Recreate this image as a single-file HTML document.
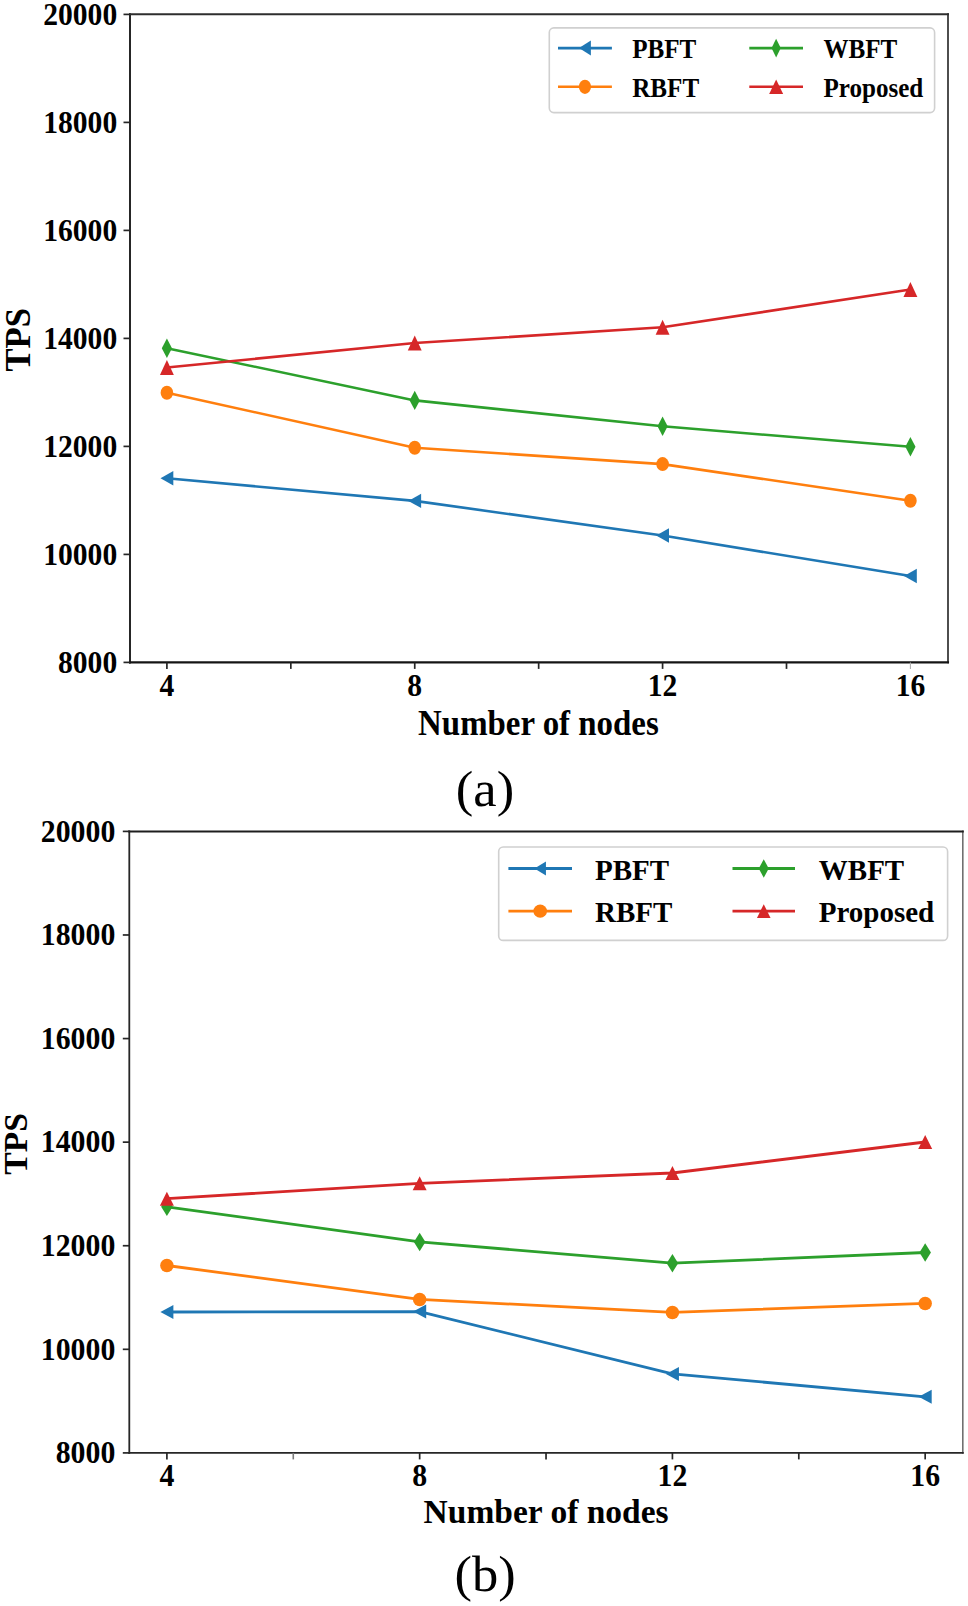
<!DOCTYPE html>
<html><head><meta charset="utf-8"><style>
html,body{margin:0;padding:0;background:#fff;}
svg{display:block;}
text{font-family:"Liberation Serif", serif;}
</style></head><body>
<svg width="968" height="1606" viewBox="0 0 968 1606">
<rect width="968" height="1606" fill="#fff"/>
<polyline points="166.90,478.30 414.74,500.90 662.58,535.50 910.42,576.00" fill="none" stroke="#1f77b4" stroke-width="2.6" stroke-linejoin="round"/>
<polygon points="160.50,478.30 173.30,471.10 173.30,485.50" fill="#1f77b4"/>
<polygon points="408.34,500.90 421.14,493.70 421.14,508.10" fill="#1f77b4"/>
<polygon points="656.18,535.50 668.98,528.30 668.98,542.70" fill="#1f77b4"/>
<polygon points="904.02,576.00 916.82,568.80 916.82,583.20" fill="#1f77b4"/>
<polyline points="166.90,392.70 414.74,447.70 662.58,464.10 910.42,500.70" fill="none" stroke="#ff7f0e" stroke-width="2.6" stroke-linejoin="round"/>
<ellipse cx="166.90" cy="392.70" rx="6.30" ry="7.00" fill="#ff7f0e"/>
<ellipse cx="414.74" cy="447.70" rx="6.30" ry="7.00" fill="#ff7f0e"/>
<ellipse cx="662.58" cy="464.10" rx="6.30" ry="7.00" fill="#ff7f0e"/>
<ellipse cx="910.42" cy="500.70" rx="6.30" ry="7.00" fill="#ff7f0e"/>
<polyline points="166.90,348.20 414.74,400.40 662.58,426.30 910.42,446.80" fill="none" stroke="#2ca02c" stroke-width="2.6" stroke-linejoin="round"/>
<polygon points="166.90,338.50 172.00,348.20 166.90,357.90 161.80,348.20" fill="#2ca02c"/>
<polygon points="414.74,390.70 419.84,400.40 414.74,410.10 409.64,400.40" fill="#2ca02c"/>
<polygon points="662.58,416.60 667.68,426.30 662.58,436.00 657.48,426.30" fill="#2ca02c"/>
<polygon points="910.42,437.10 915.52,446.80 910.42,456.50 905.32,446.80" fill="#2ca02c"/>
<polyline points="166.90,367.50 414.74,343.00 662.58,327.30 910.42,289.50" fill="none" stroke="#d62728" stroke-width="2.6" stroke-linejoin="round"/>
<polygon points="166.90,360.05 159.95,374.95 173.85,374.95" fill="#d62728"/>
<polygon points="414.74,335.55 407.79,350.45 421.69,350.45" fill="#d62728"/>
<polygon points="662.58,319.85 655.63,334.75 669.53,334.75" fill="#d62728"/>
<polygon points="910.42,282.05 903.47,296.95 917.37,296.95" fill="#d62728"/>
<line x1="130.00" y1="14.20" x2="130.00" y2="662.40" stroke="#262626" stroke-width="2.0" stroke-linecap="square"/>
<line x1="948.00" y1="14.20" x2="948.00" y2="662.40" stroke="#3a3a3a" stroke-width="1.8" stroke-linecap="square"/>
<line x1="130.00" y1="14.20" x2="948.00" y2="14.20" stroke="#2e2e2e" stroke-width="2.0" stroke-linecap="square"/>
<line x1="130.00" y1="662.40" x2="948.00" y2="662.40" stroke="#141414" stroke-width="2.1" stroke-linecap="square"/>
<line x1="123.50" y1="662.40" x2="130.00" y2="662.40" stroke="#262626" stroke-width="1.7"/>
<text transform="translate(117.20,672.70) scale(1.0000,1.1000)" font-size="29.60" text-anchor="end" font-weight="bold" fill="#000">8000</text>
<line x1="123.50" y1="554.40" x2="130.00" y2="554.40" stroke="#262626" stroke-width="1.7"/>
<text transform="translate(117.20,564.70) scale(1.0000,1.1000)" font-size="29.60" text-anchor="end" font-weight="bold" fill="#000">10000</text>
<line x1="123.50" y1="446.40" x2="130.00" y2="446.40" stroke="#262626" stroke-width="1.7"/>
<text transform="translate(117.20,456.70) scale(1.0000,1.1000)" font-size="29.60" text-anchor="end" font-weight="bold" fill="#000">12000</text>
<line x1="123.50" y1="338.40" x2="130.00" y2="338.40" stroke="#262626" stroke-width="1.7"/>
<text transform="translate(117.20,348.70) scale(1.0000,1.1000)" font-size="29.60" text-anchor="end" font-weight="bold" fill="#000">14000</text>
<line x1="123.50" y1="230.40" x2="130.00" y2="230.40" stroke="#262626" stroke-width="1.7"/>
<text transform="translate(117.20,240.70) scale(1.0000,1.1000)" font-size="29.60" text-anchor="end" font-weight="bold" fill="#000">16000</text>
<line x1="123.50" y1="122.40" x2="130.00" y2="122.40" stroke="#262626" stroke-width="1.7"/>
<text transform="translate(117.20,132.70) scale(1.0000,1.1000)" font-size="29.60" text-anchor="end" font-weight="bold" fill="#000">18000</text>
<line x1="123.50" y1="14.40" x2="130.00" y2="14.40" stroke="#262626" stroke-width="1.7"/>
<text transform="translate(117.20,24.70) scale(1.0000,1.1000)" font-size="29.60" text-anchor="end" font-weight="bold" fill="#000">20000</text>
<line x1="166.90" y1="662.40" x2="166.90" y2="668.90" stroke="#262626" stroke-width="1.7"/>
<text transform="translate(166.90,696.20) scale(1.0000,1.1000)" font-size="29.60" text-anchor="middle" font-weight="bold" fill="#000">4</text>
<line x1="290.82" y1="662.40" x2="290.82" y2="668.90" stroke="#262626" stroke-width="1.7"/>
<line x1="414.74" y1="662.40" x2="414.74" y2="668.90" stroke="#262626" stroke-width="1.7"/>
<text transform="translate(414.74,696.20) scale(1.0000,1.1000)" font-size="29.60" text-anchor="middle" font-weight="bold" fill="#000">8</text>
<line x1="538.66" y1="662.40" x2="538.66" y2="668.90" stroke="#262626" stroke-width="1.7"/>
<line x1="662.58" y1="662.40" x2="662.58" y2="668.90" stroke="#262626" stroke-width="1.7"/>
<text transform="translate(662.58,696.20) scale(1.0000,1.1000)" font-size="29.60" text-anchor="middle" font-weight="bold" fill="#000">12</text>
<line x1="786.50" y1="662.40" x2="786.50" y2="668.90" stroke="#262626" stroke-width="1.7"/>
<line x1="910.42" y1="662.40" x2="910.42" y2="668.90" stroke="#b0b0b0" stroke-width="1.1"/>
<text transform="translate(910.42,696.20) scale(1.0000,1.1000)" font-size="29.60" text-anchor="middle" font-weight="bold" fill="#000">16</text>
<text transform="translate(538.40,734.80) scale(1.0000,1.0600)" font-size="32.90" text-anchor="middle" font-weight="bold" fill="#000">Number of nodes</text>
<text transform="translate(30.30,339.85) rotate(-90) scale(1.0000,1.0200)" font-size="34.60" text-anchor="middle" font-weight="bold" fill="#000">TPS</text>
<rect x="549.30" y="27.90" width="385.30" height="84.70" rx="4.5" fill="#fff" stroke="#d0d0d0" stroke-width="1.6"/>
<line x1="558.00" y1="48.10" x2="611.90" y2="48.10" stroke="#1f77b4" stroke-width="2.6"/>
<polygon points="579.05,48.10 590.85,40.60 590.85,55.60" fill="#1f77b4"/>
<text transform="translate(632.20,57.50) scale(1.0000,1.0900)" font-size="25.10" text-anchor="start" font-weight="bold" fill="#000">PBFT</text>
<line x1="558.00" y1="86.80" x2="611.90" y2="86.80" stroke="#ff7f0e" stroke-width="2.6"/>
<ellipse cx="584.95" cy="86.80" rx="6.10" ry="7.10" fill="#ff7f0e"/>
<text transform="translate(632.20,96.80) scale(1.0000,1.0900)" font-size="25.10" text-anchor="start" font-weight="bold" fill="#000">RBFT</text>
<line x1="749.30" y1="48.10" x2="803.00" y2="48.10" stroke="#2ca02c" stroke-width="2.6"/>
<polygon points="776.15,38.80 780.75,48.10 776.15,57.40 771.55,48.10" fill="#2ca02c"/>
<text transform="translate(823.40,57.50) scale(1.0000,1.0900)" font-size="25.10" text-anchor="start" font-weight="bold" fill="#000">WBFT</text>
<line x1="749.30" y1="86.80" x2="803.00" y2="86.80" stroke="#d62728" stroke-width="2.6"/>
<polygon points="776.15,79.50 769.15,94.10 783.15,94.10" fill="#d62728"/>
<text transform="translate(823.40,96.80) scale(1.0000,1.0900)" font-size="25.10" text-anchor="start" font-weight="bold" fill="#000">Proposed</text>
<polyline points="166.90,1312.00 419.66,1311.60 672.42,1373.90 925.18,1396.80" fill="none" stroke="#1f77b4" stroke-width="2.8" stroke-linejoin="round"/>
<polygon points="160.40,1312.00 173.40,1305.00 173.40,1319.00" fill="#1f77b4"/>
<polygon points="413.16,1311.60 426.16,1304.60 426.16,1318.60" fill="#1f77b4"/>
<polygon points="665.92,1373.90 678.92,1366.90 678.92,1380.90" fill="#1f77b4"/>
<polygon points="918.68,1396.80 931.68,1389.80 931.68,1403.80" fill="#1f77b4"/>
<polyline points="166.90,1265.50 419.66,1299.40 672.42,1312.40 925.18,1303.40" fill="none" stroke="#ff7f0e" stroke-width="2.8" stroke-linejoin="round"/>
<ellipse cx="166.90" cy="1265.50" rx="6.75" ry="6.75" fill="#ff7f0e"/>
<ellipse cx="419.66" cy="1299.40" rx="6.75" ry="6.75" fill="#ff7f0e"/>
<ellipse cx="672.42" cy="1312.40" rx="6.75" ry="6.75" fill="#ff7f0e"/>
<ellipse cx="925.18" cy="1303.40" rx="6.75" ry="6.75" fill="#ff7f0e"/>
<polyline points="166.90,1206.80 419.66,1241.90 672.42,1263.20 925.18,1252.50" fill="none" stroke="#2ca02c" stroke-width="2.8" stroke-linejoin="round"/>
<polygon points="166.90,1197.55 172.65,1206.80 166.90,1216.05 161.15,1206.80" fill="#2ca02c"/>
<polygon points="419.66,1232.65 425.41,1241.90 419.66,1251.15 413.91,1241.90" fill="#2ca02c"/>
<polygon points="672.42,1253.95 678.17,1263.20 672.42,1272.45 666.67,1263.20" fill="#2ca02c"/>
<polygon points="925.18,1243.25 930.93,1252.50 925.18,1261.75 919.43,1252.50" fill="#2ca02c"/>
<polyline points="166.90,1198.70 419.66,1183.30 672.42,1173.00 925.18,1142.00" fill="none" stroke="#d62728" stroke-width="2.8" stroke-linejoin="round"/>
<polygon points="166.90,1191.70 159.90,1205.70 173.90,1205.70" fill="#d62728"/>
<polygon points="419.66,1176.30 412.66,1190.30 426.66,1190.30" fill="#d62728"/>
<polygon points="672.42,1166.00 665.42,1180.00 679.42,1180.00" fill="#d62728"/>
<polygon points="925.18,1135.00 918.18,1149.00 932.18,1149.00" fill="#d62728"/>
<line x1="129.30" y1="831.40" x2="129.30" y2="1452.90" stroke="#262626" stroke-width="1.8" stroke-linecap="square"/>
<line x1="962.80" y1="831.40" x2="962.80" y2="1452.90" stroke="#707070" stroke-width="1.6" stroke-linecap="square"/>
<line x1="129.30" y1="831.40" x2="962.80" y2="831.40" stroke="#1e1e1e" stroke-width="2.0" stroke-linecap="square"/>
<line x1="129.30" y1="1452.90" x2="962.80" y2="1452.90" stroke="#262626" stroke-width="1.9" stroke-linecap="square"/>
<line x1="122.80" y1="1452.90" x2="129.30" y2="1452.90" stroke="#262626" stroke-width="1.7"/>
<text transform="translate(115.30,1463.10) scale(1.0000,1.0450)" font-size="29.80" text-anchor="end" font-weight="bold" fill="#000">8000</text>
<line x1="122.80" y1="1349.32" x2="129.30" y2="1349.32" stroke="#262626" stroke-width="1.7"/>
<text transform="translate(115.30,1359.52) scale(1.0000,1.0450)" font-size="29.80" text-anchor="end" font-weight="bold" fill="#000">10000</text>
<line x1="122.80" y1="1245.73" x2="129.30" y2="1245.73" stroke="#262626" stroke-width="1.7"/>
<text transform="translate(115.30,1255.93) scale(1.0000,1.0450)" font-size="29.80" text-anchor="end" font-weight="bold" fill="#000">12000</text>
<line x1="122.80" y1="1142.15" x2="129.30" y2="1142.15" stroke="#262626" stroke-width="1.7"/>
<text transform="translate(115.30,1152.35) scale(1.0000,1.0450)" font-size="29.80" text-anchor="end" font-weight="bold" fill="#000">14000</text>
<line x1="122.80" y1="1038.57" x2="129.30" y2="1038.57" stroke="#262626" stroke-width="1.7"/>
<text transform="translate(115.30,1048.77) scale(1.0000,1.0450)" font-size="29.80" text-anchor="end" font-weight="bold" fill="#000">16000</text>
<line x1="122.80" y1="934.98" x2="129.30" y2="934.98" stroke="#262626" stroke-width="1.7"/>
<text transform="translate(115.30,945.18) scale(1.0000,1.0450)" font-size="29.80" text-anchor="end" font-weight="bold" fill="#000">18000</text>
<line x1="122.80" y1="831.40" x2="129.30" y2="831.40" stroke="#262626" stroke-width="1.7"/>
<text transform="translate(115.30,841.60) scale(1.0000,1.0450)" font-size="29.80" text-anchor="end" font-weight="bold" fill="#000">20000</text>
<line x1="166.90" y1="1452.90" x2="166.90" y2="1459.40" stroke="#262626" stroke-width="1.7"/>
<text transform="translate(166.90,1486.20) scale(1.0000,1.0250)" font-size="29.80" text-anchor="middle" font-weight="bold" fill="#000">4</text>
<line x1="293.28" y1="1452.90" x2="293.28" y2="1459.40" stroke="#7a7a7a" stroke-width="1.6"/>
<line x1="419.66" y1="1452.90" x2="419.66" y2="1459.40" stroke="#262626" stroke-width="1.7"/>
<text transform="translate(419.66,1486.20) scale(1.0000,1.0250)" font-size="29.80" text-anchor="middle" font-weight="bold" fill="#000">8</text>
<line x1="546.04" y1="1452.90" x2="546.04" y2="1459.40" stroke="#262626" stroke-width="1.7"/>
<line x1="672.42" y1="1452.90" x2="672.42" y2="1459.40" stroke="#262626" stroke-width="1.7"/>
<text transform="translate(672.42,1486.20) scale(1.0000,1.0250)" font-size="29.80" text-anchor="middle" font-weight="bold" fill="#000">12</text>
<line x1="798.80" y1="1452.90" x2="798.80" y2="1459.40" stroke="#262626" stroke-width="1.7"/>
<line x1="925.18" y1="1452.90" x2="925.18" y2="1459.40" stroke="#262626" stroke-width="1.7"/>
<text transform="translate(925.18,1486.20) scale(1.0000,1.0250)" font-size="29.80" text-anchor="middle" font-weight="bold" fill="#000">16</text>
<text transform="translate(546.10,1522.50) scale(1.0000,1.0100)" font-size="33.50" text-anchor="middle" font-weight="bold" fill="#000">Number of nodes</text>
<text transform="translate(27.10,1143.85) rotate(-90)" font-size="33.60" text-anchor="middle" font-weight="bold" fill="#000">TPS</text>
<rect x="498.70" y="847.00" width="448.90" height="93.40" rx="4.5" fill="#fff" stroke="#d0d0d0" stroke-width="1.6"/>
<line x1="508.40" y1="868.50" x2="572.00" y2="868.50" stroke="#1f77b4" stroke-width="2.8"/>
<polygon points="534.45,868.50 545.95,861.60 545.95,875.40" fill="#1f77b4"/>
<text transform="translate(595.00,879.60) scale(1.0000,1.0400)" font-size="29.00" text-anchor="start" font-weight="bold" fill="#000">PBFT</text>
<line x1="508.40" y1="911.20" x2="572.00" y2="911.20" stroke="#ff7f0e" stroke-width="2.8"/>
<ellipse cx="540.20" cy="911.20" rx="6.80" ry="6.60" fill="#ff7f0e"/>
<text transform="translate(595.00,921.70) scale(1.0000,1.0400)" font-size="29.00" text-anchor="start" font-weight="bold" fill="#000">RBFT</text>
<line x1="732.50" y1="868.50" x2="795.00" y2="868.50" stroke="#2ca02c" stroke-width="2.8"/>
<polygon points="763.75,859.35 768.75,868.50 763.75,877.65 758.75,868.50" fill="#2ca02c"/>
<text transform="translate(818.80,879.60) scale(1.0000,1.0400)" font-size="29.00" text-anchor="start" font-weight="bold" fill="#000">WBFT</text>
<line x1="732.50" y1="911.20" x2="795.00" y2="911.20" stroke="#d62728" stroke-width="2.8"/>
<polygon points="763.75,904.30 756.95,918.10 770.55,918.10" fill="#d62728"/>
<text transform="translate(818.80,921.70) scale(1.0000,1.0400)" font-size="29.00" text-anchor="start" font-weight="bold" fill="#000">Proposed</text>
<text transform="translate(485.00,805.80) scale(1.0000,0.9582)" font-size="52.60" text-anchor="middle" font-weight="normal" fill="#000">(a)</text>
<text transform="translate(485.10,1590.60) scale(1.0000,0.9600)" font-size="52.50" text-anchor="middle" font-weight="normal" fill="#000">(b)</text>
</svg>
</body></html>
